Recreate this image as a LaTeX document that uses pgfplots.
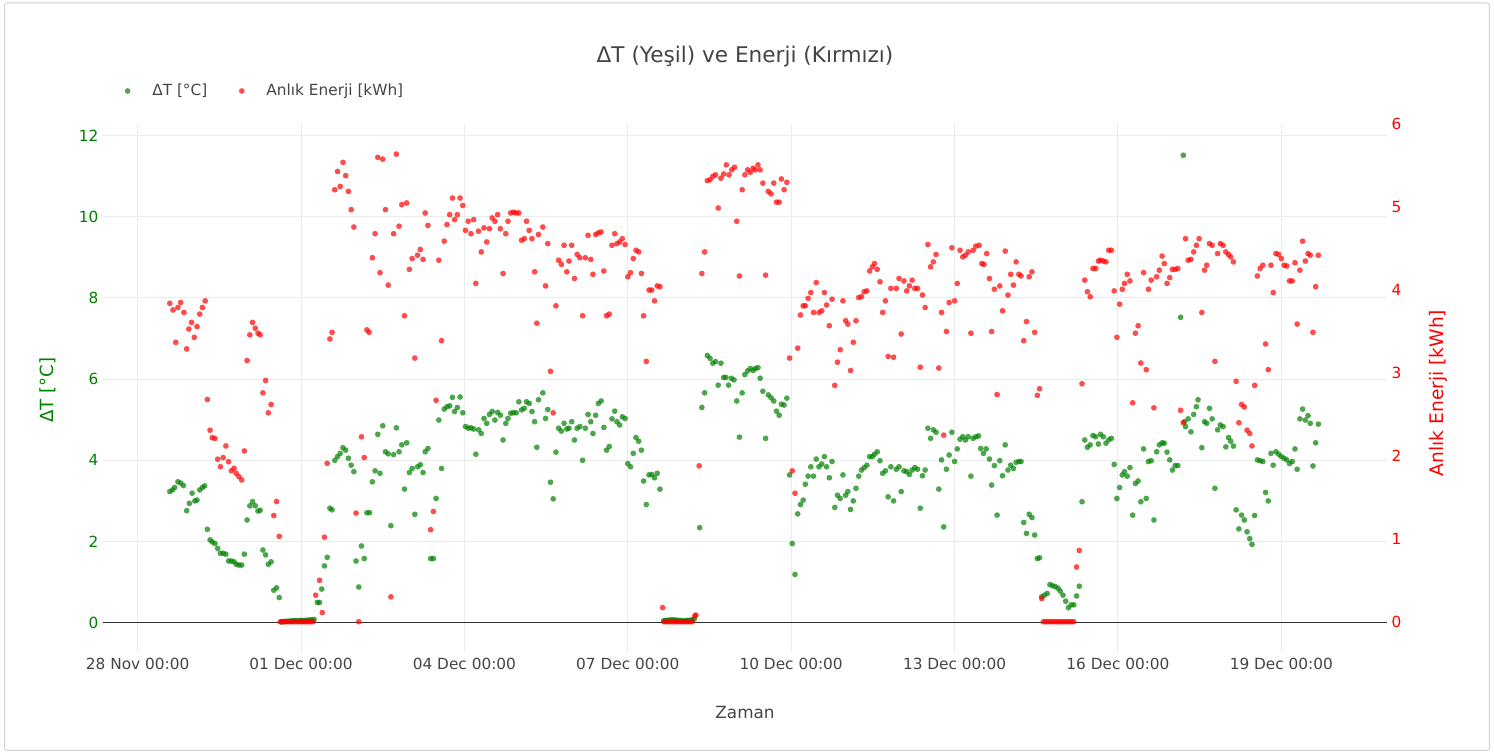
\documentclass[border=0pt]{standalone}
\usepackage{fontspec}
\setmainfont{DejaVu Sans}
\usepackage{pgfplots}
\pgfplotsset{compat=1.18}
\definecolor{txt}{HTML}{444444}
\definecolor{grn}{HTML}{008000}
\definecolor{rd}{HTML}{FF0000}
\definecolor{gridc}{HTML}{EBEBEB}
\pgfplotsset{
  gmark/.style={only marks, mark=*, mark size=2.15pt, mark options={draw=grn, fill=grn, fill opacity=0.7, draw opacity=0}},
  rmark/.style={only marks, mark=*, mark size=2.15pt, mark options={draw=rd, fill=rd, fill opacity=0.7, draw opacity=0}},
}
\begin{document}
\begin{tikzpicture}
\path[use as bounding box] (0pt,0pt) rectangle (1120.5pt,566.25pt);
\draw[black!18, line width=0.75pt, rounded corners=2pt] (3.4pt,3.4pt) rectangle (1117.1pt,564pt);
\node[text=txt, font=\fontsize{16.2}{19}\selectfont] at (558.75pt,523.5pt) {ΔT (Yeşil) ve Enerji (Kırmızı)};
\begin{axis}[
  at={(77.25pt,77.25pt)}, anchor=south west, scale only axis,
  width=963pt, height=396pt,
  xmin=-0.636, xmax=22.94, ymin=-0.72, ymax=12.28,
  axis line style={draw=none}, major tick length=0pt,
  xtick={0,3,6,9,12,15,18,21},
  xticklabels={28 Nov 00:00,01 Dec 00:00,04 Dec 00:00,07 Dec 00:00,10 Dec 00:00,13 Dec 00:00,16 Dec 00:00,19 Dec 00:00},
  ytick={0,2,4,6,8,10,12},
  xmajorgrids, ymajorgrids, major grid style={draw=gridc, line width=0.75pt},
  xticklabel style={text=txt, font=\fontsize{11.5}{13}\selectfont, anchor=center, yshift=-9pt},
  yticklabel style={text=grn, font=\fontsize{11.5}{13}\selectfont},
  /pgf/number format/assume math mode=true,
  xlabel={Zaman}, ylabel={ΔT [°C]},
  every axis x label/.style={at={(axis description cs:0.5,-0.1155)}, anchor=center, text=txt, font=\fontsize{12.6}{14}\selectfont},
  every axis y label/.style={at={(axis description cs:-0.0428,0.496)}, rotate=90, anchor=center, text=grn, font=\fontsize{13.6}{15}\selectfont},
  legend columns=2,
  legend style={at={(axis description cs:0.0129,1.0625)}, anchor=west, draw=none, fill=none, text=txt, font=\fontsize{11.5}{13}\selectfont, /tikz/every even column/.append style={column sep=21pt}},
  legend image code/.code={\draw[#1] plot coordinates {(0.1cm,0cm)}; \path[draw=none] (0cm,0cm) -- (0.68cm,0cm);},
]
\draw[color=black!80, line width=1.1pt] (axis cs:-0.636,0) -- (axis cs:22.94,0);
\addplot[gmark] coordinates {
(0.59,3.23)(0.64,3.27)(0.68,3.33)(0.74,3.47)(0.79,3.44)(0.84,3.38)(0.90,2.76)(0.95,2.94)(1.00,3.19)(1.05,3.00)
(1.09,3.02)(1.14,3.27)(1.19,3.33)(1.23,3.37)(1.28,2.30)(1.33,2.04)(1.37,1.99)(1.42,1.95)(1.47,1.83)(1.52,1.71)
(1.57,1.71)(1.62,1.69)(1.67,1.52)(1.72,1.52)(1.77,1.50)(1.81,1.44)(1.86,1.42)(1.91,1.42)(1.96,1.69)(2.01,2.53)
(2.06,2.88)(2.11,2.98)(2.16,2.88)(2.21,2.75)(2.25,2.77)(2.30,1.79)(2.35,1.67)(2.40,1.44)(2.45,1.50)(2.50,0.80)
(2.55,0.86)(2.60,0.62)
(2.64,0.02)(2.68,0.03)(2.72,0.03)(2.76,0.04)(2.80,0.04)(2.84,0.05)(2.88,0.05)(2.92,0.05)(2.96,0.05)(3.00,0.06)
(3.04,0.05)(3.08,0.06)(3.12,0.06)(3.16,0.07)(3.20,0.07)(3.24,0.08)
(3.30,0.50)(3.34,0.50)(3.38,0.83)(3.43,1.40)(3.48,1.61)(3.53,2.82)(3.57,2.78)(3.62,4.00)(3.67,4.09)(3.72,4.17)
(3.77,4.31)(3.82,4.25)(3.87,4.05)(3.92,3.88)(3.97,3.72)(4.01,1.52)(4.06,0.88)(4.11,1.89)(4.16,1.58)(4.21,2.71)
(4.26,2.71)(4.31,3.47)(4.36,3.74)(4.41,4.64)(4.45,3.68)(4.50,4.85)(4.55,4.21)(4.60,4.16)(4.65,2.39)(4.70,4.14)
(4.75,4.80)(4.80,4.21)(4.85,4.38)(4.90,3.29)(4.94,4.43)(4.99,3.70)(5.04,3.80)(5.09,2.67)(5.14,3.84)(5.19,3.89)
(5.24,3.70)(5.28,4.21)(5.33,4.29)(5.38,1.58)(5.43,1.58)(5.48,3.06)(5.53,4.99)(5.58,3.80)(5.63,5.26)(5.68,5.32)
(5.73,5.34)(5.78,5.55)(5.82,5.20)(5.87,5.30)(5.92,5.56)(5.97,5.17)(6.02,4.83)(6.07,4.79)(6.12,4.80)(6.17,4.77)
(6.21,4.15)(6.26,4.75)(6.31,4.66)(6.36,5.03)(6.41,4.91)(6.46,5.13)(6.51,5.20)(6.56,4.99)(6.61,5.18)(6.66,5.11)
(6.71,4.50)(6.76,4.91)(6.80,5.03)(6.85,5.16)(6.90,5.17)(6.95,5.17)(7.00,5.44)(7.05,5.24)(7.10,5.28)(7.14,5.44)
(7.19,5.40)(7.24,5.20)(7.29,4.95)(7.33,4.32)(7.36,5.49)
(7.44,5.66)(7.49,5.03)(7.53,5.25)(7.58,3.46)(7.63,3.05)(7.68,4.20)(7.73,4.79)(7.78,4.72)(7.83,4.91)(7.88,4.77)
(7.92,4.79)(7.97,4.95)(8.02,4.50)(8.07,4.79)(8.12,4.83)(8.17,4.00)(8.22,4.79)(8.27,5.13)(8.32,4.95)(8.36,4.66)
(8.41,5.11)(8.46,5.40)(8.51,5.46)(8.56,4.81)(8.61,4.25)(8.66,4.34)(8.71,5.02)(8.76,5.21)(8.80,4.95)(8.85,4.87)
(8.90,5.07)(8.95,5.03)(9.00,3.92)(9.05,3.84)(9.10,4.17)(9.15,4.56)(9.20,4.47)(9.25,4.25)(9.29,3.49)(9.34,2.91)
(9.39,3.64)(9.44,3.65)(9.49,3.57)(9.54,3.68)(9.59,3.29)
(9.66,0.05)(9.70,0.06)(9.74,0.06)(9.78,0.07)(9.82,0.07)(9.86,0.07)(9.90,0.06)(9.94,0.06)(9.98,0.05)(10.02,0.05)
(10.06,0.05)(10.10,0.06)(10.14,0.06)(10.18,0.07)(10.22,0.09)
(10.32,2.34)(10.36,5.30)(10.41,5.66)(10.46,6.58)(10.51,6.51)(10.56,6.39)(10.61,6.43)(10.66,5.85)(10.71,6.39)(10.76,6.04)
(10.80,6.04)(10.85,5.85)(10.90,6.02)(10.95,5.98)(11.00,5.46)(11.05,4.57)(11.10,5.66)(11.15,6.11)(11.20,6.20)(11.25,6.26)
(11.30,6.21)(11.34,6.26)(11.39,6.28)
(11.43,6.02)(11.48,5.70)(11.53,4.54)(11.58,5.61)(11.63,5.54)(11.68,5.46)(11.73,5.21)(11.78,5.11)(11.82,5.38)(11.87,5.36)
(11.92,5.53)(11.97,3.64)(12.02,1.95)(12.07,1.19)(12.12,2.68)(12.17,2.91)(12.22,3.02)(12.26,3.41)(12.31,3.61)(12.36,3.84)
(12.41,3.61)(12.46,4.03)(12.51,3.84)(12.56,3.91)(12.61,4.09)(12.65,3.84)(12.70,3.57)(12.75,3.97)(12.80,2.84)(12.85,3.14)
(12.90,3.06)(12.95,3.64)(13.00,3.14)(13.04,3.23)(13.09,2.79)(13.14,3.00)(13.19,3.31)(13.24,3.61)(13.29,3.76)(13.34,3.82)
(13.39,3.88)(13.44,4.09)(13.49,4.09)(13.53,4.15)(13.58,4.21)(13.63,3.99)(13.68,3.68)(13.73,3.74)(13.78,3.10)(13.83,3.84)
(13.88,3.00)(13.93,3.78)(13.98,3.84)(14.02,3.23)(14.07,3.74)(14.12,3.72)(14.17,3.65)(14.22,3.76)(14.27,3.82)(14.32,3.78)
(14.37,2.82)(14.41,3.62)(14.46,3.76)(14.51,4.79)(14.56,4.54)(14.61,4.75)(14.66,4.69)(14.71,3.29)(14.76,4.01)(14.80,2.36)
(14.85,3.78)(14.90,4.13)(14.95,4.69)(15.00,3.97)(15.05,4.28)(15.10,4.52)(15.15,4.58)(15.20,4.50)(15.25,4.58)(15.30,3.61)
(15.34,4.54)(15.39,4.58)
(15.44,4.60)(15.48,4.29)(15.53,4.17)(15.58,4.28)(15.64,4.03)(15.68,3.39)(15.73,3.87)(15.78,2.65)(15.83,3.99)(15.88,3.62)
(15.93,4.38)(15.98,3.76)(16.03,3.88)(16.08,3.80)(16.13,3.95)(16.18,3.97)(16.22,3.97)(16.27,2.47)(16.32,2.20)(16.37,2.67)
(16.42,2.59)(16.47,2.16)(16.52,1.58)(16.56,1.60)(16.60,0.64)(16.65,0.68)(16.70,0.72)(16.75,0.94)(16.80,0.91)(16.85,0.89)
(16.90,0.85)(16.94,0.78)(16.99,0.68)(17.04,0.53)(17.09,0.37)(17.14,0.44)(17.19,0.44)(17.24,0.66)(17.29,0.90)(17.34,2.98)
(17.39,4.50)(17.44,4.32)(17.49,4.38)(17.54,4.61)(17.59,4.58)(17.64,4.40)(17.68,4.64)(17.73,4.58)(17.78,4.42)(17.83,4.50)
(17.88,4.54)(17.93,3.90)(17.98,3.06)(18.03,3.33)(18.08,3.64)(18.12,3.72)(18.17,3.61)(18.22,3.82)(18.27,2.65)(18.32,3.43)
(18.37,3.49)(18.42,2.98)(18.47,4.28)(18.52,3.06)(18.56,3.97)(18.61,3.99)(18.66,2.53)(18.71,4.21)(18.76,4.38)(18.81,4.43)
(18.85,4.42)(18.90,4.20)(18.95,4.01)(19.00,3.76)(19.05,3.87)(19.10,3.87)(19.15,7.52)(19.20,11.51)(19.22,4.95)(19.24,4.83)
(19.29,5.02)(19.34,4.70)(19.39,5.13)(19.44,5.32)(19.47,5.49)
(19.54,4.31)(19.59,4.95)(19.63,4.91)(19.68,5.28)(19.73,5.02)(19.78,3.31)(19.83,4.75)(19.88,4.87)(19.93,4.83)(19.98,4.33)
(20.03,4.56)(20.07,4.47)(20.12,4.35)(20.17,2.78)(20.22,2.31)(20.27,2.65)(20.32,2.53)(20.37,2.24)(20.42,2.07)(20.46,1.93)
(20.51,2.64)(20.56,4.01)(20.61,3.99)(20.66,3.97)(20.71,3.21)(20.76,3.00)(20.81,4.17)(20.85,3.88)(20.90,4.21)(20.95,4.15)
(21.00,4.09)(21.05,4.05)(21.10,4.01)(21.15,3.92)(21.20,3.97)(21.25,4.28)(21.29,3.78)(21.34,5.02)(21.39,5.26)(21.44,4.99)
(21.49,5.10)(21.53,4.91)(21.58,3.86)(21.63,4.43)(21.68,4.89)
};
\addlegendentry{ΔT [°C]}
\addlegendimage{rmark}
\addlegendentry{Anlık Enerji [kWh]}
\end{axis}
\begin{axis}[
  at={(77.25pt,77.25pt)}, anchor=south west, scale only axis,
  width=963pt, height=396pt,
  xmin=-0.636, xmax=22.94, ymin=-0.365, ymax=6.003,
  axis y line*=right, axis x line=none,
  axis line style={draw=none}, major tick length=0pt,
  ytick={0,1,2,3,4,5,6},
  yticklabel style={text=rd, font=\fontsize{11.5}{13}\selectfont},
  /pgf/number format/assume math mode=true,
  ylabel={Anlık Enerji [kWh]},
  every axis y label/.style={at={(axis description cs:1.0397,0.4905)}, rotate=90, anchor=center, text=rd, font=\fontsize{14}{16}\selectfont},
]
\addplot[rmark] coordinates {
(0.59,3.84)(0.65,3.76)(0.70,3.37)(0.74,3.79)(0.79,3.85)(0.85,3.73)(0.90,3.29)(0.94,3.53)(0.99,3.61)(1.04,3.43)
(1.09,3.56)(1.14,3.71)(1.19,3.79)(1.24,3.87)(1.28,2.68)(1.33,2.31)(1.37,2.22)(1.42,2.21)(1.47,1.96)(1.52,1.87)
(1.57,1.98)(1.62,2.12)(1.67,1.93)(1.72,1.82)(1.77,1.85)(1.81,1.79)(1.86,1.75)(1.91,1.71)(1.96,2.06)(2.01,3.15)
(2.06,3.46)(2.11,3.61)(2.16,3.54)(2.21,3.48)(2.25,3.46)(2.30,2.76)(2.35,2.91)(2.40,2.52)(2.45,2.62)(2.50,1.28)
(2.55,1.45)(2.60,1.03)
(2.62,0)(2.66,0)(2.70,0)(2.74,0)(2.78,0)(2.82,0)(2.86,0)(2.90,0)(2.94,0)(2.98,0)(3.02,0)(3.06,0)(3.10,0)(3.14,0)(3.18,0)(3.22,0)
(3.27,0.32)(3.34,0.50)(3.39,0.11)(3.43,1.02)(3.48,1.91)(3.53,3.41)(3.57,3.49)(3.62,5.21)(3.67,5.43)(3.72,5.25)
(3.77,5.54)(3.82,5.38)(3.87,5.19)(3.92,4.97)(3.97,4.76)(4.01,1.31)(4.06,0.00)(4.11,2.23)(4.16,1.98)(4.21,3.52)
(4.25,3.49)(4.31,4.39)(4.36,4.68)(4.41,5.60)(4.45,4.21)(4.50,5.58)(4.55,4.97)(4.60,4.06)(4.65,0.30)(4.70,4.68)
(4.75,5.64)(4.80,4.77)(4.85,5.03)(4.90,3.69)(4.94,5.05)(4.99,4.25)(5.04,4.38)(5.09,3.18)(5.14,4.42)(5.19,4.49)
(5.24,4.37)(5.28,4.93)(5.33,4.78)(5.38,1.11)(5.43,1.33)(5.48,2.67)(5.53,4.36)(5.58,3.39)(5.63,4.59)(5.68,4.79)
(5.73,4.91)(5.78,5.11)(5.82,4.85)(5.87,4.91)(5.92,5.11)(5.97,5.02)(6.02,4.72)(6.07,4.83)(6.12,4.68)(6.17,4.85)
(6.21,4.08)(6.26,4.71)(6.31,4.46)(6.36,4.75)(6.41,4.58)(6.46,4.74)(6.51,4.87)(6.56,4.83)(6.61,4.91)(6.66,4.74)
(6.71,4.20)(6.76,4.68)(6.80,4.83)(6.85,4.93)(6.90,4.94)(6.95,4.93)(7.00,4.93)(7.05,4.60)(7.10,4.62)(7.14,4.83)
(7.19,4.72)(7.24,4.62)(7.29,4.22)(7.33,3.60)(7.36,4.67)
(7.44,4.76)(7.49,4.05)(7.53,4.56)(7.58,3.02)(7.63,2.52)(7.68,3.81)(7.73,4.36)(7.78,4.31)(7.83,4.54)(7.88,4.22)
(7.92,4.35)(7.97,4.54)(8.02,4.14)(8.07,4.43)(8.12,4.39)(8.17,3.69)(8.22,4.39)(8.27,4.66)(8.32,4.37)(8.36,4.19)
(8.41,4.67)(8.46,4.69)(8.51,4.70)(8.56,4.23)(8.61,3.69)(8.66,3.71)(8.71,4.54)(8.76,4.68)(8.80,4.56)(8.85,4.58)
(8.90,4.62)(8.95,4.55)(9.00,4.16)(9.05,4.21)(9.10,4.38)(9.15,4.48)(9.20,4.46)(9.25,4.20)(9.29,3.69)(9.34,3.14)
(9.39,4.00)(9.44,4.00)(9.49,3.87)(9.54,4.05)(9.59,4.04)(9.64,0.17)
(9.66,0)(9.70,0)(9.74,0)(9.78,0)(9.82,0)(9.86,0)(9.90,0)(9.94,0)(9.98,0)(10.02,0)(10.06,0)(10.10,0)(10.14,0)(10.18,0)
(10.23,0.07)(10.25,0.08)(10.31,1.88)(10.36,4.20)(10.41,4.46)(10.46,5.32)(10.51,5.33)(10.56,5.37)(10.61,5.39)(10.66,4.99)
(10.71,5.35)(10.76,5.40)(10.81,5.51)(10.86,5.39)(10.91,5.45)(10.96,5.48)(11.00,4.83)(11.05,4.17)(11.10,5.21)(11.15,5.39)
(11.20,5.45)(11.25,5.42)(11.30,5.47)(11.34,5.45)(11.39,5.51)
(11.43,5.45)(11.48,5.29)(11.53,4.18)(11.58,5.19)(11.63,5.16)(11.68,5.29)(11.73,5.06)(11.78,5.06)(11.82,5.34)(11.87,5.21)
(11.92,5.30)(11.97,3.18)(12.02,1.82)(12.07,1.55)(12.12,3.30)(12.17,3.70)(12.22,3.81)(12.26,3.81)(12.31,3.90)(12.36,3.97)
(12.41,3.73)(12.46,4.09)(12.51,3.73)(12.56,3.75)(12.61,3.97)(12.65,3.82)(12.70,3.57)(12.75,3.89)(12.80,2.85)(12.85,3.13)
(12.90,3.28)(12.95,3.87)(13.00,3.63)(13.04,3.59)(13.09,3.03)(13.14,3.37)(13.19,3.63)(13.24,3.91)(13.29,3.92)(13.34,3.98)
(13.39,3.99)(13.44,4.23)(13.49,4.28)(13.53,4.32)(13.58,4.25)(13.63,4.10)(13.68,3.73)(13.73,3.87)(13.78,3.20)(13.83,4.02)
(13.88,3.19)(13.93,4.02)(13.98,4.14)(14.02,3.47)(14.07,4.11)(14.12,3.99)(14.17,4.05)(14.22,4.12)(14.27,4.02)(14.32,4.02)
(14.37,3.07)(14.41,3.94)(14.46,3.79)(14.51,4.55)(14.56,4.28)(14.61,4.34)(14.66,4.43)(14.71,3.06)(14.76,3.73)(14.80,2.25)
(14.85,3.50)(14.90,3.85)(14.95,4.51)(15.00,3.87)(15.05,4.08)(15.10,4.48)(15.15,4.40)(15.20,4.42)(15.25,4.46)(15.30,3.48)
(15.34,4.48)(15.39,4.53)
(15.45,4.54)(15.50,4.32)(15.54,4.31)(15.59,4.44)(15.64,4.14)(15.68,3.50)(15.73,4.01)(15.78,2.74)(15.83,4.05)(15.88,3.75)
(15.93,4.47)(15.98,3.94)(16.03,4.19)(16.08,4.06)(16.13,4.34)(16.18,4.19)(16.22,4.17)(16.27,3.39)(16.32,3.62)(16.37,4.16)
(16.42,4.22)(16.47,3.49)(16.52,2.73)(16.56,2.81)(16.60,0.28)
(16.63,0)(16.67,0)(16.71,0)(16.75,0)(16.79,0)(16.83,0)(16.87,0)(16.91,0)(16.95,0)(16.99,0)(17.03,0)(17.07,0)(17.11,0)(17.15,0)(17.19,0)
(17.24,0.66)(17.29,0.86)(17.34,2.87)(17.39,4.12)(17.44,3.98)(17.49,3.92)(17.54,4.26)(17.59,4.26)(17.64,4.35)(17.68,4.36)
(17.73,4.35)(17.78,4.34)(17.83,4.48)(17.88,4.48)(17.93,3.99)(17.98,3.43)(18.03,3.83)(18.08,4.01)(18.12,4.08)(18.17,4.19)
(18.22,4.11)(18.27,2.64)(18.32,3.48)(18.37,3.57)(18.42,3.12)(18.47,4.21)(18.52,3.04)(18.56,4.01)(18.61,4.12)(18.66,2.58)
(18.71,4.16)(18.76,4.24)(18.81,4.41)(18.85,4.32)(18.90,4.08)(18.95,4.15)(19.00,4.25)(19.05,4.25)(19.10,4.26)(19.15,2.55)
(19.20,2.40)(19.24,4.62)(19.29,4.36)(19.34,4.37)(19.39,4.46)(19.44,4.54)
(19.49,4.62)(19.54,3.73)(19.59,4.24)(19.63,4.30)(19.68,4.56)(19.73,4.54)(19.78,3.14)(19.83,4.44)(19.88,4.56)(19.93,4.54)
(19.98,4.46)(20.03,4.43)(20.07,4.40)(20.12,4.34)(20.17,2.90)(20.22,2.40)(20.27,2.62)(20.32,2.59)(20.37,2.31)(20.42,2.27)
(20.46,2.12)(20.51,2.85)(20.56,4.17)(20.61,4.26)(20.66,4.30)(20.71,3.35)(20.76,3.04)(20.81,4.30)(20.85,3.97)(20.90,4.44)
(20.95,4.43)(21.00,4.38)(21.05,4.30)(21.10,4.29)(21.15,4.11)(21.20,4.11)(21.25,4.33)(21.29,3.59)(21.34,4.24)(21.39,4.59)
(21.44,4.35)(21.49,4.44)(21.53,4.42)(21.58,3.49)(21.63,4.04)(21.68,4.42)
};
\end{axis}
\end{tikzpicture}
\end{document}
